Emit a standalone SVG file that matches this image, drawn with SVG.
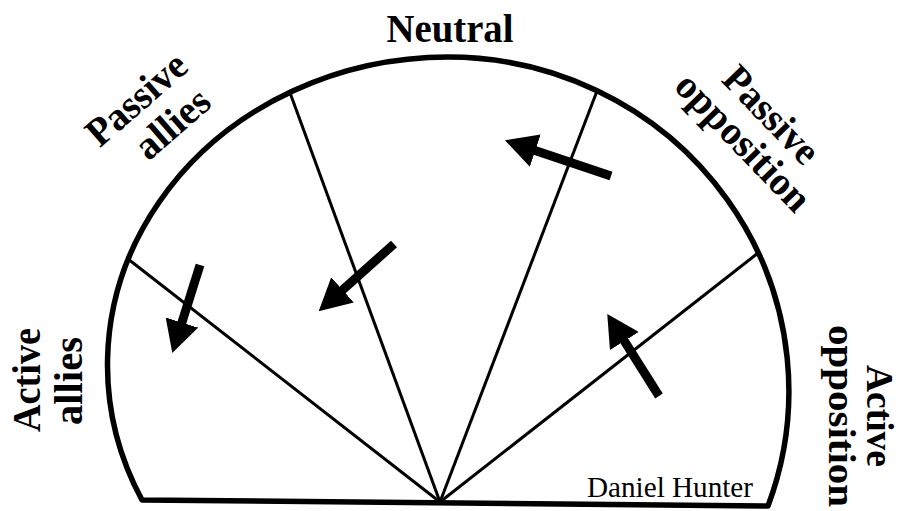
<svg xmlns="http://www.w3.org/2000/svg" width="902" height="511" viewBox="0 0 902 511">
  <style>
    .lbl { font-family: "Liberation Serif", "Times New Roman", serif; font-weight: bold; font-size: 40px; fill: #000; text-anchor: middle; }
    .sm { font-size: 38px; }
    .sig { font-family: "Liberation Serif", "Times New Roman", serif; font-size: 30px; fill: #000; }
    .outline { fill: none; stroke: #000; stroke-width: 5.5; stroke-linejoin: round; }
    .ray { stroke: #000; stroke-width: 3; fill: none; }
    .arrow { stroke: #000; stroke-width: 9; fill: none; marker-end: url(#head); }
  </style>
  <defs>
    <marker id="head" markerUnits="userSpaceOnUse" viewBox="0 0 32 34" markerWidth="32" markerHeight="34" refX="1" refY="17" orient="auto">
      <path d="M0,0 L32,17 L0,34 Z" fill="#000"/>
    </marker>
  </defs>
  <rect width="902" height="511" fill="#fff"/>

  <g id="shape">
    <path class="outline" d="M142,500 A341,308 0 0 1 448,57 A341,334 0 0 1 768,506 Z"/>
  </g>

  <g id="dividers">
    <line class="ray" x1="440" y1="502" x2="128" y2="259"/>
    <line class="ray" x1="440" y1="502" x2="289" y2="90"/>
    <line class="ray" x1="440" y1="502" x2="597" y2="91"/>
    <line class="ray" x1="440" y1="502" x2="758" y2="253"/>
  </g>

  <g id="connectors">
    <line class="arrow" x1="200" y1="265" x2="181.6" y2="323.5"/>
    <line class="arrow" x1="394" y1="244" x2="341.8" y2="290.6"/>
    <line class="arrow" x1="611" y1="176" x2="534.3" y2="150.2"/>
    <line class="arrow" x1="659" y1="396" x2="623.8" y2="340.2"/>
  </g>

  <g id="neutral">
    <text class="lbl" x="450" y="42" textLength="127" lengthAdjust="spacingAndGlyphs">Neutral</text>
  </g>
  <g id="passive-allies" transform="translate(145,109) rotate(-41)">
    <text class="lbl" x="0" y="0" textLength="120" lengthAdjust="spacingAndGlyphs">Passive</text>
    <text class="lbl" x="11" y="42" textLength="86" lengthAdjust="spacingAndGlyphs">allies</text>
  </g>
  <g id="passive-opposition" transform="translate(762,124) rotate(46)">
    <text class="lbl" x="0" y="0" textLength="120" lengthAdjust="spacingAndGlyphs">Passive</text>
    <text class="lbl" x="0" y="39" textLength="176" lengthAdjust="spacingAndGlyphs">opposition</text>
  </g>
  <g id="active-allies" transform="translate(40,380) rotate(-90)">
    <text class="lbl" x="0" y="0" textLength="104" lengthAdjust="spacingAndGlyphs">Active</text>
    <text class="lbl" x="-1" y="42" textLength="88" lengthAdjust="spacingAndGlyphs">allies</text>
  </g>
  <g id="active-opposition" transform="translate(867,416) rotate(90)">
    <text class="lbl sm" x="0" y="0" textLength="102" lengthAdjust="spacingAndGlyphs">Active</text>
    <text class="lbl sm" x="0" y="38" textLength="182" lengthAdjust="spacingAndGlyphs">opposition</text>
  </g>
  <g id="credit">
    <text class="sig" x="587" y="497" textLength="166" lengthAdjust="spacingAndGlyphs">Daniel Hunter</text>
  </g>
</svg>
